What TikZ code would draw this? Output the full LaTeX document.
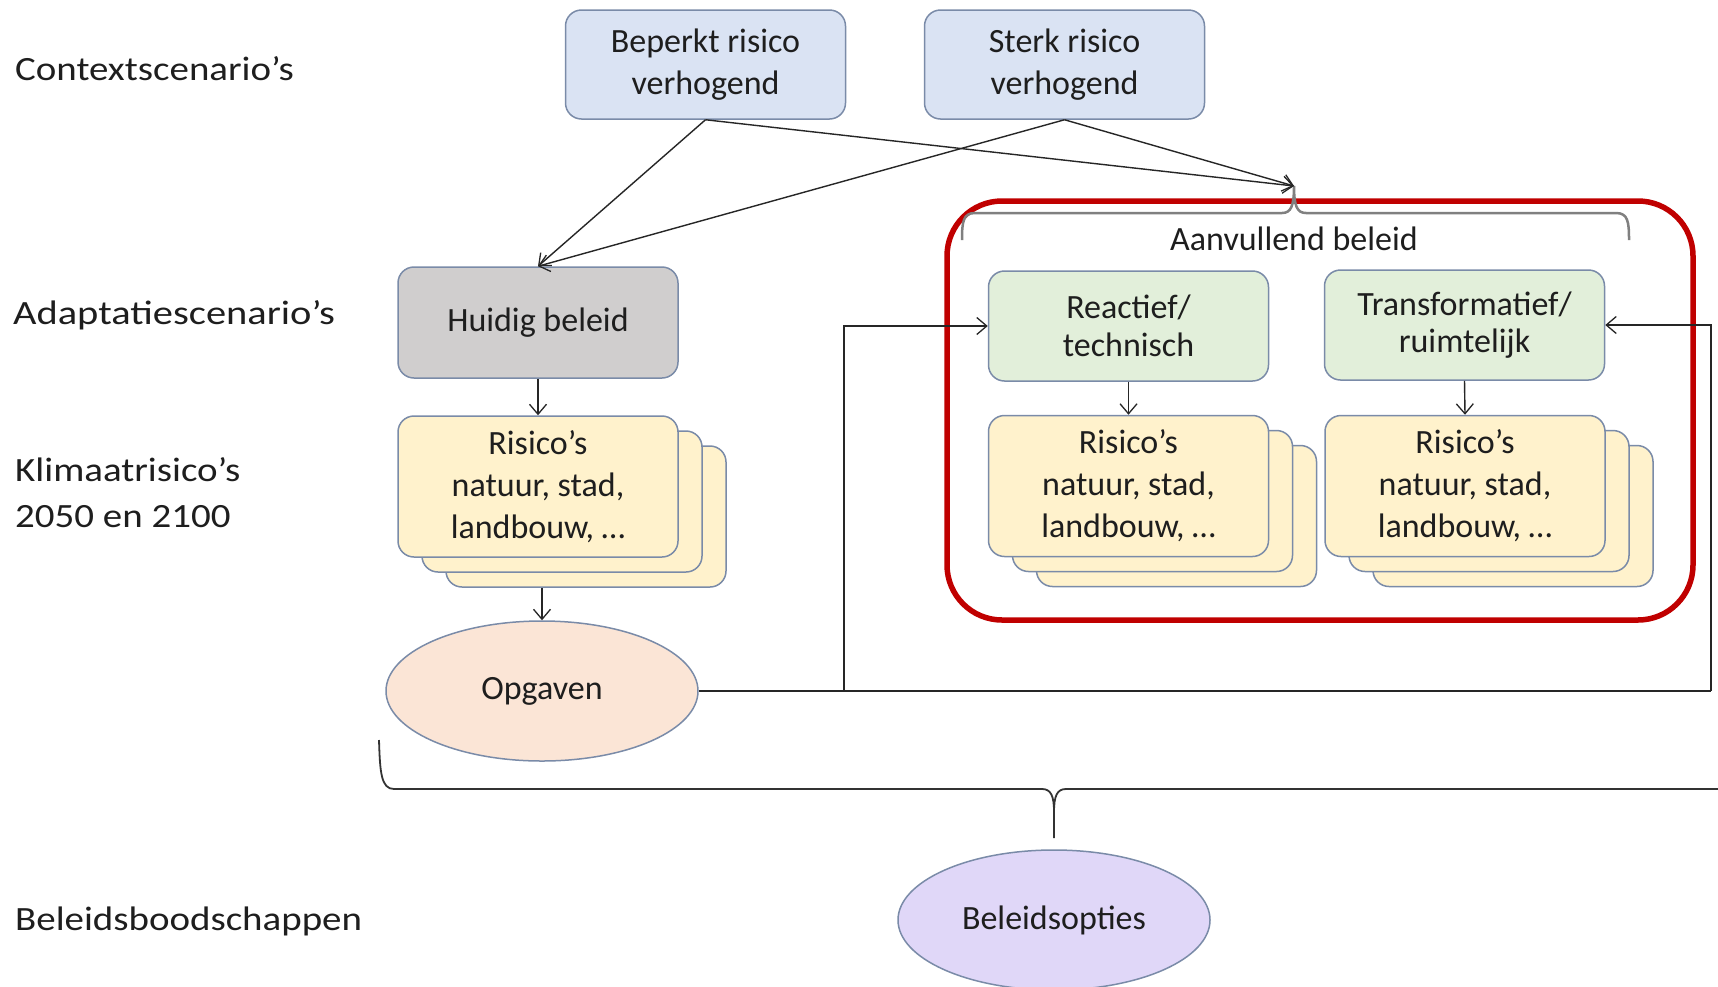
\documentclass[tikz,border=0pt]{standalone}
\usepackage{fontspec}
\setmainfont{Carlito}
\newfontfamily\labelfont{Carlito}[FakeStretch=1.145]
\newfontfamily\labelfontwide{Carlito}[FakeStretch=1.19]
\usetikzlibrary{arrows.meta,shapes.geometric}
\definecolor{ctxfill}{HTML}{DAE3F3}
\definecolor{grayfill}{HTML}{D0CECE}
\definecolor{greenfill}{HTML}{E2EFDA}
\definecolor{yellowfill}{HTML}{FFF2CC}
\definecolor{peachfill}{HTML}{FBE5D6}
\definecolor{lilacfill}{HTML}{E0D7F8}
\definecolor{edge}{HTML}{7A8BA8}
\definecolor{txt}{HTML}{1E1E1E}
\definecolor{redframe}{HTML}{C00000}
\definecolor{bracegray}{HTML}{808080}
\tikzset{
  box/.style={rectangle, rounded corners=16pt, draw=edge, line width=1.5pt,
    minimum width=280pt, minimum height=110pt, align=center, inner sep=0pt,
    text=txt, font=\fontsize{34pt}{41.5pt}\selectfont},
  ctxbox/.style={box, fill=ctxfill},
  graybox/.style={box, fill=grayfill},
  greenbox/.style={box, fill=greenfill, font=\fontsize{34pt}{37.5pt}\selectfont},
  riskbox/.style={box, fill=yellowfill, minimum height=141pt, font=\fontsize{34pt}{42pt}\selectfont},
  oval/.style={ellipse, draw=edge, line width=1.5pt, minimum width=312pt,
    minimum height=140pt, inner sep=0pt, text=txt, font=\fontsize{34pt}{41.5pt}\selectfont},
  lbl/.style={anchor=west, align=left, inner sep=0pt, text=txt,
    font=\labelfont\fontsize{34pt}{46pt}\selectfont},
  arr/.style={draw=black!85, line width=1.4pt, -{Straight Barb[length=10pt,width=17pt,line width=1.3pt]}},
  brace/.style={draw=bracegray, line width=2.5pt},
  bracebot/.style={draw=black!80, line width=1.8pt},
  frame/.style={rectangle, draw=redframe, line width=5.5pt, rounded corners=55pt,
    minimum width=746pt, minimum height=419pt, inner sep=0pt}
}
\begin{document}
\begin{tikzpicture}[x=1pt,y=-1pt]
\useasboundingbox (0,0) rectangle (1718,986);
\fill[white] (0,0) rectangle (1718,986);

% left labels
\node[lbl] (lctx) at (15,69) {Contextscenario’s};
\node[lbl, font=\labelfontwide\fontsize{34pt}{46pt}\selectfont] (ladapt) at (13,315) {Adaptatiescenario’s};
\node[lbl] (lklim) at (15,493) {Klimaatrisico’s\\2050 en 2100};
\node[lbl] (lbel) at (15,921) {Beleidsboodschappen};

% context scenarios
\node[ctxbox, minimum height=109pt] (beperkt) at (705.5,64.5) {Beperkt risico\\verhogend};
\node[ctxbox, minimum height=109pt] (sterk) at (1064.5,64.5) {Sterk risico\\verhogend};

% red frame
\node[frame] (aanv) at (1320,410.5) {};

% brace at top of Aanvullend beleid
\coordinate (bracetip) at (1294,186);
\draw[brace] (962,240) .. controls (962,222) and (963,213) .. (975,213) -- (1282,213)
  .. controls (1291,213) and (1294,206) .. (bracetip)
  .. controls (1294,206) and (1297,213) .. (1306,213) -- (1616,213)
  .. controls (1628,213) and (1629,222) .. (1629,240);
\node[text=txt, font=\fontsize{34pt}{41.5pt}\selectfont, inner sep=0pt] (aanvtxt) at (1294,239) {Aanvullend beleid};

% adaptation scenarios
\node[graybox, minimum height=111pt] (huidig) at (538,322.5) {Huidig beleid};
\node[greenbox] (reactief) at (1128.5,326) {Reactief/\\technisch};
\node[greenbox] (transf) at (1464.5,325) {Transformatief/\\ruimtelijk};

% risk stacks
\node[riskbox] (rl3) at (586,516.5) {};
\node[riskbox] (rl2) at (562,501.5) {};
\node[riskbox] (rl1) at (538,486.5) {Risico’s\\natuur, stad,\\landbouw, …};
\node[riskbox] (rm3) at (1176.5,516) {};
\node[riskbox] (rm2) at (1152.5,501) {};
\node[riskbox] (rm1) at (1128.5,486) {Risico’s\\natuur, stad,\\landbouw, …};
\node[riskbox] (rr3) at (1513,516) {};
\node[riskbox] (rr2) at (1489,501) {};
\node[riskbox] (rr1) at (1465,486) {Risico’s\\natuur, stad,\\landbouw, …};

% ovals
\node[oval, fill=peachfill] (opgaven) at (542,691) {Opgaven};
\node[oval, fill=lilacfill] (beleid) at (1054,920) {Beleidsopties};

% arrows from context scenarios
\draw[arr] (beperkt.south) -- (huidig.north);
\draw[arr] (sterk.south) -- (huidig.north);
\draw[arr] (beperkt.south) -- (bracetip);
\draw[arr] (sterk.south) -- (bracetip);

% vertical arrows
\draw[arr] (huidig.south) -- (rl1.north);
\draw[arr] (reactief.south) -- (rm1.north);
\draw[arr] (transf.south) -- (rr1.north);
\draw[arr] (rl3.south -| opgaven.north) -- (opgaven.north);

% feedback lines
\coordinate (fbL) at (844,691);
\coordinate (fbR) at (1711,691);
\draw[draw=black!85, line width=1.4pt] (opgaven.east) -- (fbR);
\draw[arr] (fbR) |- (transf.east);
\draw[arr] (fbL) |- (reactief.west);

% bottom brace
\coordinate (bracebottom) at (1054,838);
\draw[bracebot] (379,740) .. controls (380,772) and (381,789) .. (394,789) -- (1042,789)
  .. controls (1051,789) and (1054,796) .. (1054,812) -- (bracebottom);
\draw[bracebot] (1054,812) .. controls (1054,796) and (1057,789) .. (1066,789) -- (1725,789);
\end{tikzpicture}
\end{document}
